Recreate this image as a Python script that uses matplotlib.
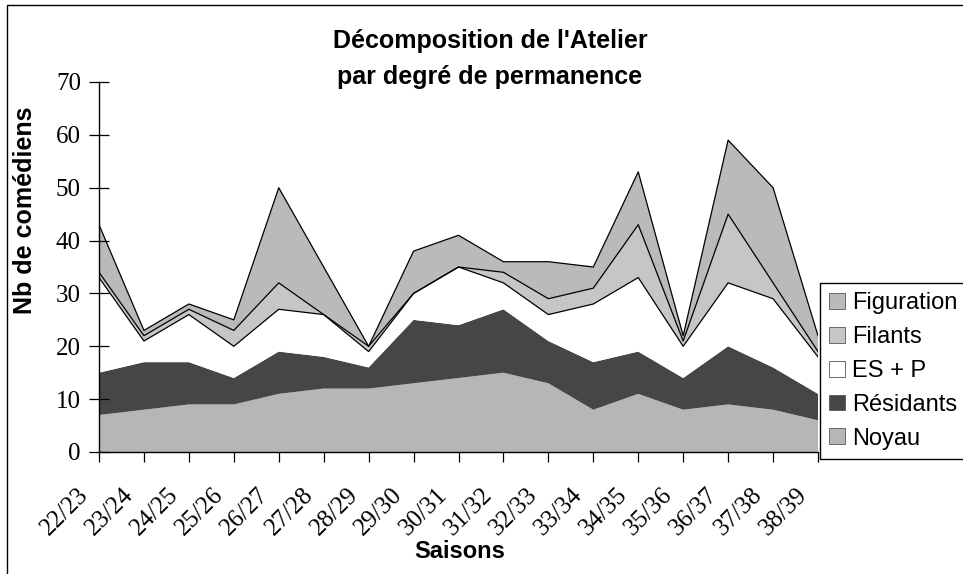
import matplotlib
matplotlib.use("Agg")
import matplotlib.pyplot as plt
import matplotlib.transforms as mtransforms
from matplotlib.patches import Rectangle

seasons = ["22/23", "23/24", "24/25", "25/26", "26/27", "27/28", "28/29", "29/30",
           "30/31", "31/32", "32/33", "33/34", "34/35", "35/36", "36/37", "37/38", "38/39"]
noyau      = [7, 8, 9, 9, 11, 12, 12, 13, 14, 15, 13, 8, 11, 8, 9, 8, 6]
residants  = [8, 9, 8, 5, 8, 6, 4, 12, 10, 12, 8, 9, 8, 6, 11, 8, 5]
es_p       = [18, 4, 9, 6, 8, 8, 3, 5, 11, 5, 5, 11, 14, 6, 12, 13, 7]
filants    = [1, 1, 1, 3, 5, 0, 1, 0, 0, 2, 3, 3, 10, 1, 13, 3, 1]
figuration = [9, 1, 1, 2, 18, 9, 0, 8, 6, 2, 7, 4, 10, 1, 14, 18, 3]
yticks = [0, 10, 20, 30, 40, 50, 60, 70]

names = ["Noyau", "Résidants", "ES + P", "Filants", "Figuration"]
colors = ["#b6b6b6", "#464646", "#ffffff", "#c6c6c6", "#bababa"]
edges = ["none", "none", "black", "black", "black"]

W, H = 963, 574
fig = plt.figure(figsize=(W / 100, H / 100), dpi=100)
ax = fig.add_axes([99 / W, 1 - 452 / H, (818 - 99) / W, (452 - 82) / H])

x = list(range(len(seasons)))
series = [noyau, residants, es_p, filants, figuration]
base = [0] * len(x)
handles = []
for vals, name, c, ec in zip(series, names, colors, edges):
    top = [b + v for b, v in zip(base, vals)]
    h = ax.fill_between(x, base, top, facecolor=c, edgecolor="none", label=name)
    if ec != "none":
        ax.plot(x, top, color="black", lw=0.9)
    handles.append(h)
    base = top

ax.set_xlim(0, len(x) - 1)
ax.set_ylim(0, 70)
for s in ["top", "right"]:
    ax.spines[s].set_visible(False)
for s in ["left", "bottom"]:
    ax.spines[s].set_linewidth(1.0)
    ax.spines[s].set_color("black")

ax.set_yticks(yticks)
ax.set_yticklabels([str(v) for v in yticks], family="Liberation Serif", fontsize=18)
ax.tick_params(axis="y", direction="inout", length=14, width=0.9, pad=6)
ax.set_xticks(x)
ax.set_xticklabels([])
ax.tick_params(axis="x", direction="out", length=7, width=0.9)

trans = mtransforms.blended_transform_factory(ax.transData, ax.transAxes)
off = mtransforms.ScaledTranslation(-22 / 100, -32 / 100, fig.dpi_scale_trans)
for xi, lab in zip(x, seasons):
    ax.text(xi, 0, lab, transform=trans + off, rotation=45, rotation_mode="anchor",
            ha="right", va="top", family="Liberation Serif", fontsize=18, clip_on=False)

fig.text(490 / W, 1 - 41 / H, "Décomposition de l'Atelier", ha="center", va="center",
         family="Liberation Sans", weight="bold", fontsize=18)
fig.text(490 / W, 1 - 77 / H, "par degré de permanence", ha="center", va="center",
         family="Liberation Sans", weight="bold", fontsize=18)
fig.text(25 / W, 1 - 210 / H, "Nb de comédiens", rotation=90, ha="center", va="center",
         family="Liberation Sans", weight="bold", fontsize=18)
fig.text(460 / W, 1 - 552 / H, "Saisons", ha="center", va="center",
         family="Liberation Sans", weight="bold", fontsize=17)

leg = ax.legend(handles[::-1], names[::-1], loc="upper left", mode="expand",
                bbox_to_anchor=(820 / W, 1 - 468 / H, 0.2, (468 - 283) / H),
                bbox_transform=fig.transFigure,
                frameon=True, fancybox=False, edgecolor="black", framealpha=1,
                prop={"family": "Liberation Sans", "size": 17},
                handlelength=0.65, handleheight=0.65, handletextpad=0.3,
                labelspacing=0.5, borderpad=0.4, borderaxespad=0)
leg.get_frame().set_linewidth(1.0)
for p in leg.get_patches():
    p.set_edgecolor("#555555")
    p.set_linewidth(0.6)

fig.patches.append(Rectangle((7 / W, -0.05), 1.2, 1 - 5 / H + 0.05, transform=fig.transFigure,
                             fill=False, edgecolor="black", lw=1.0))

fig.savefig("out.png", dpi=100)
